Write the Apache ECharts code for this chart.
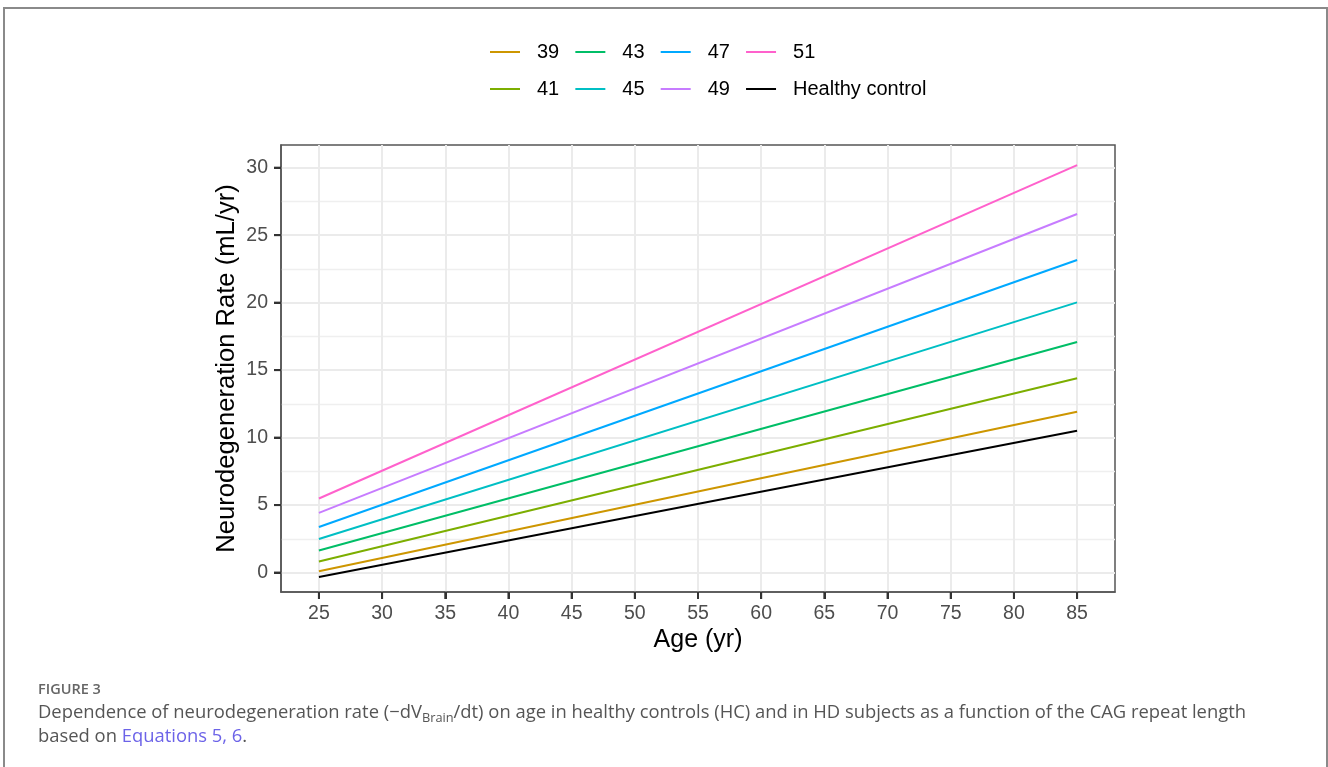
<!DOCTYPE html>
<html>
<head>
<meta charset="utf-8">
<script src="https://cdn.jsdelivr.net/npm/echarts@6/dist/echarts.min.js"></script>
<style>
  html, body { margin: 0; padding: 0; background: #fff; }
  #chart { width: 1328px; height: 767px; }
</style>
</head>
<body>
<div id="chart"></div>
<script>
// ---- data ----
const ages = [25, 85];
const xTicks = [25, 30, 35, 40, 45, 50, 55, 60, 65, 70, 75, 80, 85];
const yTicks = [0, 5, 10, 15, 20, 25, 30];
const seriesNames = ['39', '41', '43', '45', '47', '49', '51', 'Healthy control'];
const cag39 = [0.10, 11.92];
const cag41 = [0.82, 14.40];
const cag43 = [1.63, 17.09];
const cag45 = [2.49, 20.02];
const cag47 = [3.38, 23.16];
const cag49 = [4.42, 26.57];
const cag51 = [5.49, 30.19];
const healthy = [-0.33, 10.50];
const legendRow1 = ['39', '43', '47', '51'];
const legendRow2 = ['41', '45', '49', 'Healthy control'];
const colors = ['#CD9600', '#7CAE00', '#00BE67', '#00BFC4', '#00A9FF', '#C77CFF', '#FF61CC', '#000000'];

const values = [cag39, cag41, cag43, cag45, cag47, cag49, cag51, healthy];

const X_MIN = 22, X_MAX = 88, Y_MIN = -1.44, Y_MAX = 31.68;

const chart = echarts.init(document.getElementById('chart'), null, { renderer: 'canvas' });

const FONT = 'Liberation Sans';
const CAP = 'Open Sans';

const series = seriesNames.map((name, i) => ({
  name: name,
  type: 'line',
  data: ages.map((a, j) => [a, values[i][j]]),
  showSymbol: false,
  symbol: 'none',
  silent: true,
  lineStyle: { width: 2, color: colors[i] },
  itemStyle: { color: colors[i] },
  z: 3
}));

// outward tick marks on the bottom and left panel edges
series.push({
  type: 'custom',
  coordinateSystem: 'cartesian2d',
  silent: true,
  clip: false,
  z: 10,
  data: xTicks.map(v => [v, Y_MIN]),
  encode: { x: 0, y: 1 },
  renderItem: function (params, api) {
    const p = api.coord([api.value(0), api.value(1)]);
    return { type: 'line', shape: { x1: p[0], y1: p[1], x2: p[0], y2: p[1] + 7 }, style: { stroke: '#333', lineWidth: 2 } };
  }
});
series.push({
  type: 'custom',
  coordinateSystem: 'cartesian2d',
  silent: true,
  clip: false,
  z: 10,
  data: yTicks.map(v => [X_MIN, v]),
  encode: { x: 0, y: 1 },
  renderItem: function (params, api) {
    const p = api.coord([api.value(0), api.value(1)]);
    return { type: 'line', shape: { x1: p[0], y1: p[1], x2: p[0] - 7, y2: p[1] }, style: { stroke: '#333', lineWidth: 2 } };
  }
});

const legendCommon = {
  left: 490,
  orient: 'horizontal',
  icon: 'rect',
  itemWidth: 30,
  itemHeight: 2,
  itemGap: 16.1,
  padding: 0,
  selectedMode: false,
  textStyle: { fontFamily: FONT, fontSize: 20, color: '#000', padding: [0, 0, 0, 12] }
};

const option = {
  backgroundColor: '#fff',
  animation: false,
  color: colors,
  legend: [
    Object.assign({}, legendCommon, { top: 42, data: legendRow1 }),
    Object.assign({}, legendCommon, { top: 79, data: legendRow2 })
  ],
  grid: {
    left: 281, top: 145, right: 213, bottom: 175,
    show: true, borderColor: '#555', borderWidth: 1.5,
    backgroundColor: 'transparent',
    containLabel: false
  },
  xAxis: {
    type: 'value',
    min: X_MIN, max: X_MAX,
    splitNumber: 13,
    name: 'Age (yr)',
    nameLocation: 'middle',
    nameGap: 36,
    nameMoveOverlap: false,
    nameTextStyle: { fontFamily: FONT, fontSize: 25, color: '#000' },
    axisLine: { show: true, onZero: false, lineStyle: { color: '#555', width: 1.5 } },
    axisTick: { show: true, inside: false, length: 7, customValues: xTicks, lineStyle: { color: '#333333', width: 2 } },
    axisLabel: { customValues: xTicks, margin: 12, fontFamily: FONT, fontSize: 19.5, color: '#4D4D4D' },
    splitLine: { show: true, lineStyle: { color: '#EBEBEB', width: 2 } },
    minorTick: { show: false },
    minorSplitLine: { show: false }
  },
  yAxis: {
    type: 'value',
    min: Y_MIN, max: Y_MAX,
    splitNumber: 7,
    name: 'Neurodegeneration Rate (mL/yr)',
    nameLocation: 'middle',
    nameGap: 41,
    nameMoveOverlap: false,
    nameTextStyle: { fontFamily: FONT, fontSize: 25.6, color: '#000' },
    axisLine: { show: true, onZero: false, lineStyle: { color: '#555', width: 1.5 } },
    axisTick: { show: true, inside: false, length: 7, customValues: yTicks, lineStyle: { color: '#333333', width: 2 } },
    axisLabel: { customValues: yTicks, margin: 13, fontFamily: FONT, fontSize: 19.5, color: '#4D4D4D' },
    splitLine: { show: true, lineStyle: { color: '#EBEBEB', width: 2 } },
    minorTick: { show: false, splitNumber: 2 },
    minorSplitLine: { show: true, lineStyle: { color: '#EFEFEF', width: 1.4 } }
  },
  series: series,
  graphic: [
    {
      type: 'rect', silent: true, z: -10,
      shape: { x: 4, y: 8, width: 1323, height: 820 },
      style: { fill: 'none', stroke: '#8A8A8A', lineWidth: 2 }
    },
    {
      type: 'text', silent: true, left: 38, top: 682,
      style: { text: 'FIGURE 3', fontFamily: CAP, fontSize: 14.5, fontWeight: 600, fill: '#666' }
    },
    {
      type: 'text', silent: true, left: 38, top: 704,
      style: {
        text: '{a|Dependence of neurodegeneration rate (−dV}{s|Brain}{a|/dt) on age in healthy controls (HC) and in HD subjects as a function of the CAG repeat length}',
        rich: {
          a: { fontFamily: CAP, fontSize: 18.4, fill: '#555', lineHeight: 24 },
          s: { fontFamily: CAP, fontSize: 12.8, fill: '#555', lineHeight: 14, verticalAlign: 'bottom' }
        }
      }
    },
    {
      type: 'text', silent: true, left: 38, top: 728,
      style: {
        text: '{a|based on }{l|Equations 5, 6}{a|.}',
        rich: {
          a: { fontFamily: CAP, fontSize: 18.4, fill: '#555', lineHeight: 24 },
          l: { fontFamily: CAP, fontSize: 18.4, fill: '#6C63E8', lineHeight: 24 }
        }
      }
    }
  ]
};

chart.setOption(option);
</script>
</body>
</html>
